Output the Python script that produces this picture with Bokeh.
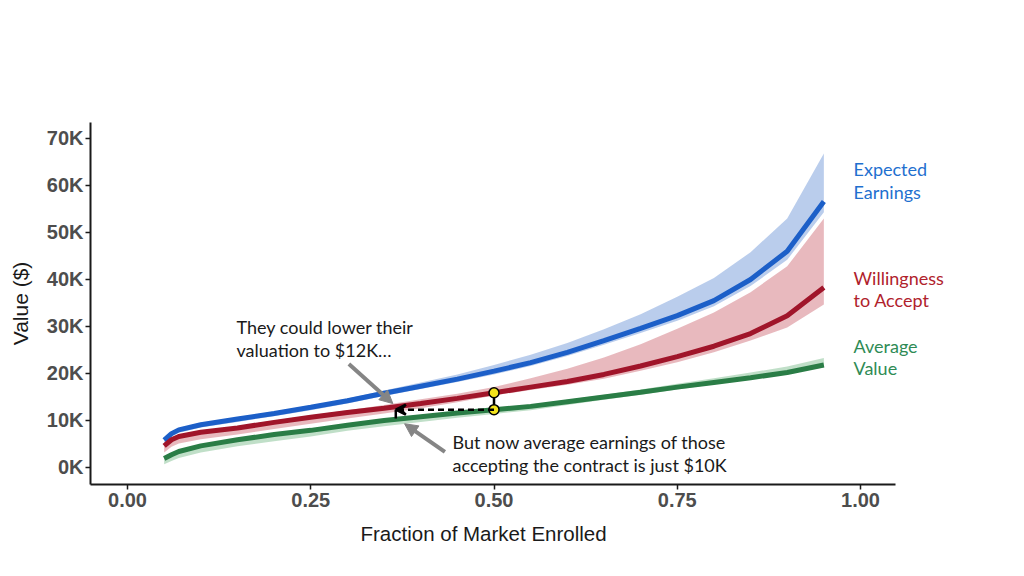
from bokeh.plotting import figure
from bokeh.models import (Range1d, FixedTicker, CustomJSTickFormatter, Label, Arrow,
                          NormalHead, VeeHead, ColumnDataSource, Title)
from bokeh.embed import file_html
from bokeh.resources import INLINE

# ---------------- data (values in $K) ----------------
frac = [0.05, 0.06, 0.07, 0.10, 0.15, 0.20, 0.25, 0.30, 0.35, 0.40, 0.45,
        0.50, 0.55, 0.60, 0.65, 0.70, 0.75, 0.80, 0.85, 0.90, 0.95]

expected = [5.8, 7.2, 8.0, 9.1, 10.3, 11.5, 12.8, 14.2, 15.8, 17.3, 18.8,
            20.5, 22.3, 24.5, 27.0, 29.6, 32.3, 35.5, 40.0, 46.0, 56.6]
expected_lo = [5.2, 6.6, 7.4, 8.5, 9.7, 10.9, 12.2, 13.6, 15.2, 16.7, 18.2,
               19.8, 21.6, 23.7, 26.1, 28.6, 31.2, 34.3, 38.6, 44.2, 54.3]
expected_hi = [6.2, 7.6, 8.4, 9.5, 10.7, 11.9, 13.2, 14.7, 16.4, 18.1, 19.8,
               21.8, 24.0, 26.5, 29.4, 32.6, 36.3, 40.3, 45.8, 53.0, 66.8]

wta = [4.6, 5.9, 6.6, 7.5, 8.4, 9.6, 10.7, 11.7, 12.6, 13.6, 14.7,
       15.9, 17.1, 18.3, 19.8, 21.6, 23.6, 25.8, 28.5, 32.3, 38.3]
wta_lo = [3.2, 4.4, 5.1, 6.0, 7.0, 8.2, 9.3, 10.4, 11.5, 12.6, 13.9,
          15.3, 16.5, 17.6, 18.9, 20.6, 22.4, 24.5, 27.0, 29.8, 34.7]
wta_hi = [5.0, 6.2, 6.9, 7.8, 8.8, 10.0, 11.1, 12.2, 13.3, 14.5, 15.7,
          17.1, 19.0, 21.0, 23.4, 26.2, 29.5, 33.0, 37.3, 42.8, 53.0]

avg_value = [1.9, 2.7, 3.4, 4.6, 5.9, 7.0, 7.9, 9.0, 10.0, 10.8, 11.6,
             12.3, 13.0, 14.0, 15.0, 16.0, 17.1, 18.1, 19.1, 20.2, 21.8]
avg_lo = [0.7, 1.4, 2.0, 3.2, 4.5, 5.6, 6.6, 7.8, 8.8, 9.7, 10.6,
          11.4, 12.2, 13.3, 14.4, 15.5, 16.6, 17.7, 18.8, 19.9, 21.3]
avg_hi = [2.2, 3.0, 3.7, 4.8, 6.1, 7.2, 8.1, 9.2, 10.2, 11.0, 11.8,
          12.6, 13.4, 14.4, 15.5, 16.6, 17.8, 19.0, 20.2, 21.5, 23.3]

x_ticks = [0.0, 0.25, 0.5, 0.75, 1.0]
y_ticks = [0, 10, 20, 30, 40, 50, 60, 70]

# annotation values
focus_x = 0.5
wta_at_focus = 15.9
avg_at_focus = 12.3
lowered_x = 0.366
avg_at_lowered = 10.4

# ---------------- colours ----------------
BLUE, BLUE_BAND, BLUE_TXT = "#1c5fc8", "#b3c8ea", "#1f70cf"
RED, RED_BAND, RED_TXT = "#a0152a", "#e6b1b7", "#b0222c"
GREEN, GREEN_BAND, GREEN_TXT = "#2a7d46", "#b9dcc2", "#2f8b55"

X_START, X_AXIS_END, X_FRAME_END = -0.0505, 1.0477, 1.2019

p = figure(width=1016, height=568, output_backend="svg", toolbar_location=None,
           x_range=Range1d(X_START, X_FRAME_END), y_range=Range1d(-3.62, 73.4),
           min_border_left=90, min_border_right=8, min_border_top=122,
           min_border_bottom=84, background_fill_color="white",
           border_fill_color="white")
p.outline_line_color = None
p.xgrid.visible = False
p.ygrid.visible = False

src = ColumnDataSource(dict(x=frac, e=expected, elo=expected_lo, ehi=expected_hi,
                            w=wta, wlo=wta_lo, whi=wta_hi,
                            a=avg_value, alo=avg_lo, ahi=avg_hi))

p.varea(x="x", y1="elo", y2="ehi", source=src, fill_color=BLUE_BAND, fill_alpha=0.9)
p.varea(x="x", y1="wlo", y2="whi", source=src, fill_color=RED_BAND, fill_alpha=0.9)
p.varea(x="x", y1="alo", y2="ahi", source=src, fill_color=GREEN_BAND, fill_alpha=0.9)

p.line(x="x", y="e", source=src, line_color=BLUE, line_width=5)
p.line(x="x", y="w", source=src, line_color=RED, line_width=5)
p.line(x="x", y="a", source=src, line_color=GREEN, line_width=5)

# ---------------- axes ----------------
for ax in (p.xaxis[0], p.yaxis[0]):
    ax.axis_line_width = 2
    ax.axis_line_color = "#1a1a1a"
    ax.major_tick_line_color = "#1a1a1a"
    ax.major_tick_line_width = 1.5
    ax.major_tick_out = 5
    ax.major_tick_in = 0
    ax.minor_tick_line_color = None
    ax.major_label_text_font = "Liberation Sans"
    ax.major_label_text_font_style = "bold"
    ax.major_label_text_font_size = "20px"
    ax.major_label_text_color = "#4d4d4d"
    ax.axis_label_text_font = "Liberation Sans"
    ax.axis_label_text_font_style = "normal"
    ax.axis_label_text_color = "#1a1a1a"

p.xaxis.bounds = (X_START, X_AXIS_END)
p.xaxis.ticker = FixedTicker(ticks=x_ticks)
p.xaxis.formatter = CustomJSTickFormatter(code="return tick.toFixed(2);")
p.xaxis.major_label_standoff = 3

# x title centred under the axis portion only (frame extends for side labels)
p.add_layout(Title(text="Fraction of Market Enrolled", align="left", offset=270,
                   text_font="Liberation Sans", text_font_style="normal",
                   text_font_size="20.5px", text_color="#1a1a1a", standoff=20),
             "below")

p.yaxis.ticker = FixedTicker(ticks=y_ticks)
p.yaxis.formatter = CustomJSTickFormatter(code="return tick.toFixed(0) + 'K';")
p.yaxis.axis_label = "Value ($)"
p.yaxis.axis_label_text_font_size = "21px"
p.yaxis.major_label_standoff = 2
p.yaxis.axis_label_standoff = 12

# ---------------- annotation: lowered valuation ----------------
p.segment(x0=[focus_x], y0=[avg_at_focus], x1=[focus_x], y1=[wta_at_focus],
          line_color="black", line_width=2.5)
p.add_layout(Arrow(end=VeeHead(size=10, line_color="black", line_width=2.5, fill_color="black"),
                   x_start=focus_x, y_start=avg_at_focus, x_end=lowered_x, y_end=avg_at_focus,
                   line_color="black", line_width=2.5, line_dash="6 4"))
p.segment(x0=[lowered_x], y0=[avg_at_focus], x1=[lowered_x], y1=[avg_at_lowered],
          line_color="black", line_width=2.5)
p.scatter(x=[focus_x, focus_x], y=[wta_at_focus, avg_at_focus], size=10,
          fill_color="#f3e31c", line_color="black", line_width=1.5)

GRAY = "#858585"
p.add_layout(Arrow(end=NormalHead(size=13, line_color=GRAY, fill_color=GRAY),
                   x_start=0.302, y_start=22.0, x_end=0.362, y_end=13.6,
                   line_color=GRAY, line_width=4))
p.add_layout(Arrow(end=NormalHead(size=13, line_color=GRAY, fill_color=GRAY),
                   x_start=0.433, y_start=3.3, x_end=0.378, y_end=9.3,
                   line_color=GRAY, line_width=4))

def txt(x, y, s, color="#1a1a1a"):
    p.add_layout(Label(x=x, y=y, text=s, text_font="Lato", text_font_size="18px",
                       text_color=color, text_baseline="middle", text_align="left"))

txt(0.1487, 29.8, "They could lower their")
txt(0.1487, 24.9, "valuation to $12K…")
txt(0.4434, 5.5, "But now average earnings of those")
txt(0.4434, 0.6, "accepting the contract is just $10K")

txt(0.9905, 63.6, "Expected", BLUE_TXT)
txt(0.9905, 58.7, "Earnings", BLUE_TXT)
txt(0.9905, 40.4, "Willingness", RED_TXT)
txt(0.9905, 35.6, "to Accept", RED_TXT)
txt(0.9905, 25.9, "Average", GREEN_TXT)
txt(0.9905, 21.1, "Value", GREEN_TXT)

open("out.html", "w").write(file_html(p, INLINE))
